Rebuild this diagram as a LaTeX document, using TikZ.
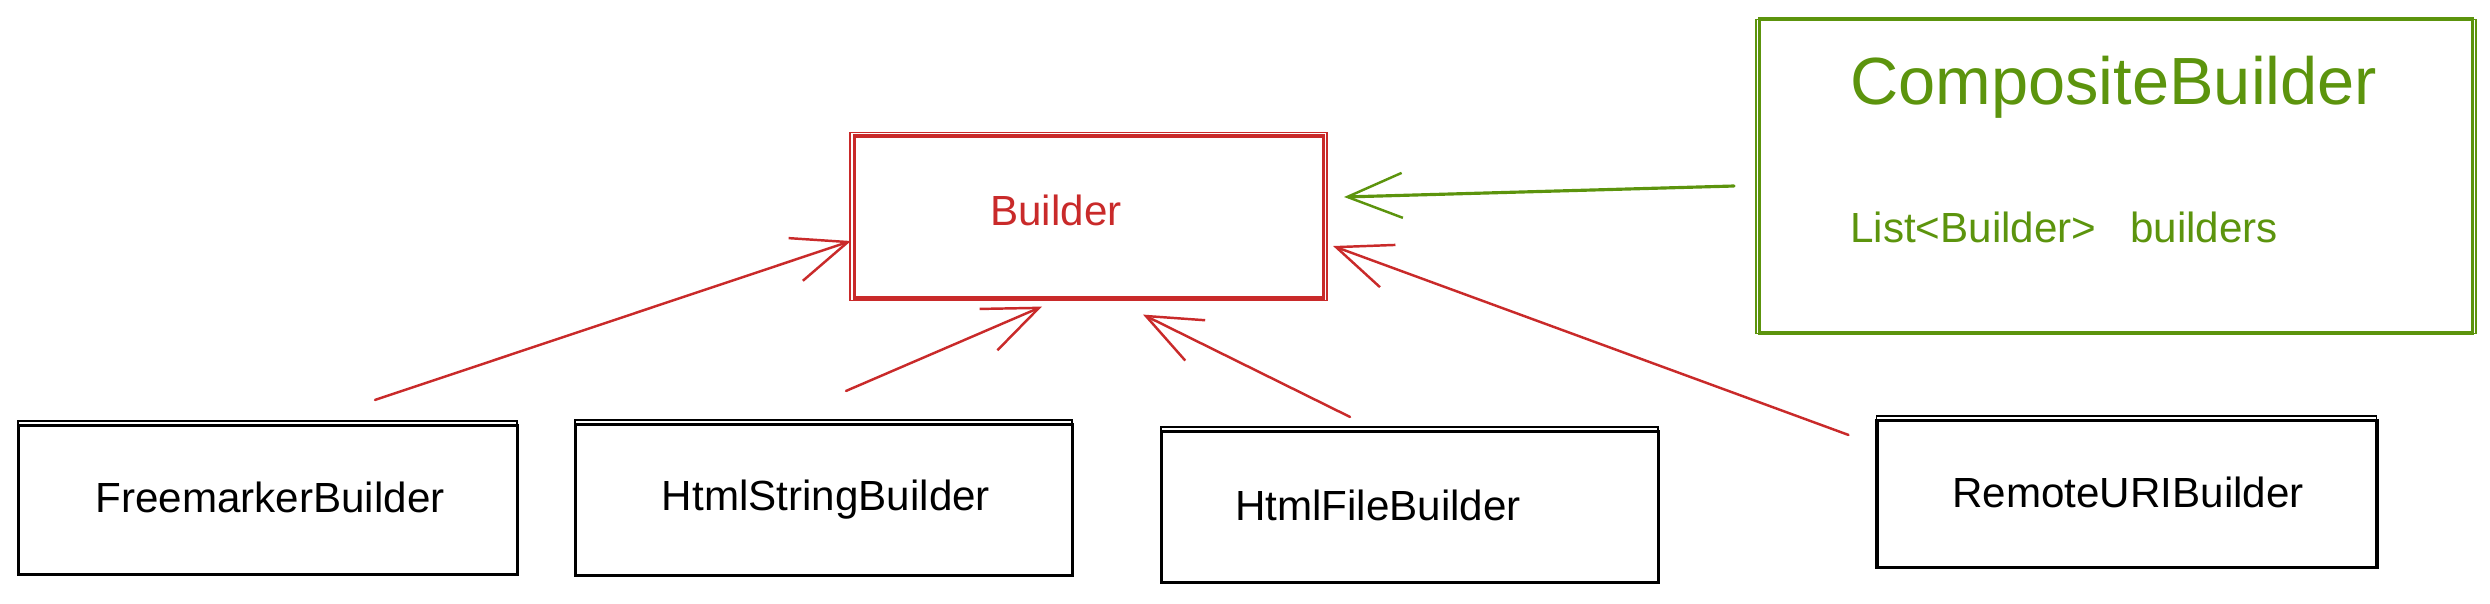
\documentclass[tikz,border=0pt]{standalone}
\usepackage{fontspec}
\setmainfont{Liberation Sans}
\usetikzlibrary{arrows.meta,calc}
\definecolor{exred}{HTML}{C92A2A}
\definecolor{exgreen}{HTML}{5C940D}
\begin{document}
\begin{tikzpicture}[x=0.02cm,y=-0.02cm,
  box/.style={draw, line width=1.8pt, rectangle, inner sep=0pt},
  sk/.style={line width=0.8pt},
  txt/.style={font=\fontsize{24}{28}\selectfont, inner sep=0pt},
  ttl/.style={font=\fontsize{38}{44}\selectfont, inner sep=0pt},
  arr/.style={line width=1.4pt, line cap=round, -{Straight Barb[length=1.1cm,width=0.9cm,line width=1.4pt]}}]
\useasboundingbox (0,0) rectangle (2490,603);
% boxes
\node[box, exred, minimum width=9.38cm, minimum height=3.24cm] (b) at (1089,217) {};
\node[box, exgreen, minimum width=14.26cm, minimum height=6.28cm] (c) at (2116,176) {};
\node[box, minimum width=9.98cm, minimum height=2.98cm] (fm) at (268,500) {};
\node[box, minimum width=9.94cm, minimum height=3.02cm] (hs) at (824,500) {};
\node[box, minimum width=9.94cm, minimum height=3.02cm] (hf) at (1410,507) {};
\node[box, minimum width=10.0cm, minimum height=2.94cm] (ru) at (2127,494) {};
% sketchy second strokes
\draw[sk, exred] ($(b.south west)+(-3,1)$) rectangle ($(b.north east)+(2,-2)$);
\draw[sk, exgreen] ($(c.south west)+(-2,-1)$) rectangle ($(c.north east)+(2,2)$);
\foreach \n in {fm,hs,hf,ru}{
  \draw[sk] ($(\n.south west)+(1,-2)$) rectangle ($(\n.north east)+(-2,-3)$);
}
% texts
\node[txt, exred] (bt) at (1056,210) {Builder};
\node[ttl, exgreen, anchor=west] (ct) at (1850,87) {CompositeBuilder};
\node[txt, exgreen, anchor=west] (cf) at (1850,227) {List<Builder>\hspace{0.8em}builders};
\node[txt] (fmt) at (270,497) {FreemarkerBuilder};
\node[txt] (hst) at (826,500) {HtmlStringBuilder};
\node[txt] (hft) at (1378,505) {HtmlFileBuilder};
\node[txt] (rut) at (2128,492) {RemoteURIBuilder};
% connector ends
\coordinate (s1) at ($(fm.north)+(107,-24)$);
\coordinate (e1) at ($(b.west)+(-2,24)$);
\coordinate (s2) at ($(hs.north)+(22,-32)$);
\coordinate (e2) at ($(b.south)+(-47,7)$);
\coordinate (s3) at ($(hf.north)+(-60,-13)$);
\coordinate (e3) at ($(b.south)+(54,15)$);
\coordinate (s4) at ($(ru.north west)+(-27,16)$);
\coordinate (e4) at ($(b.east)+(8,29)$);
\coordinate (s5) at ($(c.west)+(-24,10)$);
\coordinate (e5) at ($(b.east)+(19,-20)$);
% connectors
\draw[arr, exred] (s1) -- (e1);
\draw[arr, exred] (s2) -- (e2);
\draw[arr, exred] (s3) -- (e3);
\draw[arr, exred] (s4) -- (e4);
\draw[arr, exgreen, line width=1.8pt] (s5) -- (e5);
\end{tikzpicture}
\end{document}
